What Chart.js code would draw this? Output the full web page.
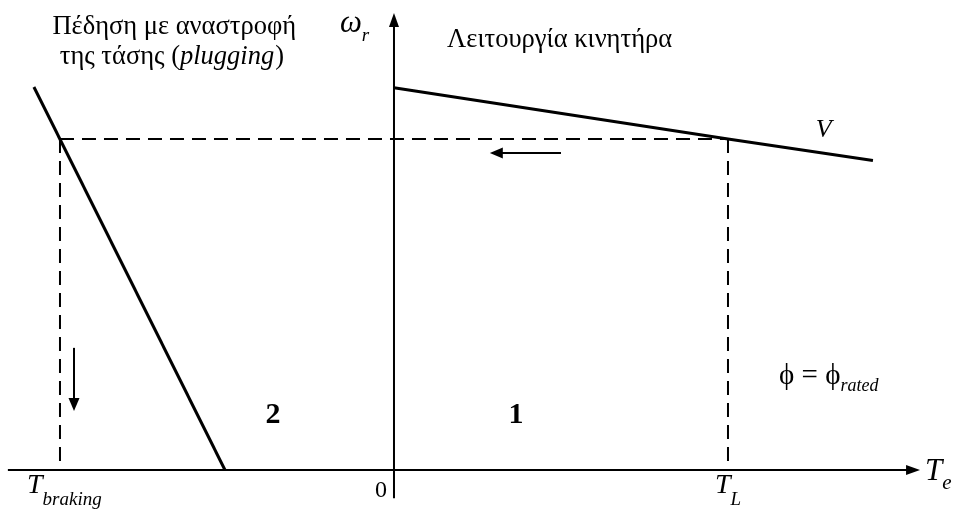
<!DOCTYPE html>
<html>
<head>
<meta charset="utf-8">
<script src="https://cdn.jsdelivr.net/npm/chart.js@4/dist/chart.umd.min.js"></script>
<style>
  html, body { margin: 0; padding: 0; background: #fff; }
  #wrap { width: 953px; height: 509px; position: relative; }
</style>
</head>
<body>
<div id="wrap"><canvas id="plugChart"></canvas></div>
<script>
// torque in units of T_L, speed in units of the operating speed
const motorTorque = [0, 1, 1.434];
const motorSpeed = [1.155, 1.0, 0.935];
const plugTorque = [-1.078, -1.0, -0.506];
const plugSpeed = [1.157, 1.0, 0];
const opTorque = [-1.0, 1.0]; // T_braking, T_L
const opSpeed = 1.0;
const xAxisRange = [-1.156, 1.575];
const yAxisRange = [-0.085, 1.381];
// direction of the operating point after the switch: [fromT, fromW, toT, toW]
const moveArrows = [[0.5, 0.958, 0.287, 0.958], [-0.958, 0.369, -0.958, 0.178]];

const serif = '"Liberation Serif", "DejaVu Serif", serif';

const toPoints = (xs, ys) => xs.map((x, i) => ({ x: x, y: ys[i] }));

const solid = (data) => ({
    data: data,
    showLine: true,
    borderColor: "#000",
    borderWidth: 3,
    pointRadius: 0,
    fill: false
});
const dashed = (data) => ({
    data: data,
    showLine: true,
    borderColor: "#000",
    borderWidth: 2,
    borderDash: [14, 8],
    pointRadius: 0,
    fill: false
});

// filled arrow head at (x, y) pointing along angle a
const arrowHead = (ctx, x, y, a, len, half) => {
    ctx.beginPath();
    ctx.moveTo(x, y);
    ctx.lineTo(x - len * Math.cos(a) + half * Math.sin(a), y - len * Math.sin(a) - half * Math.cos(a));
    ctx.lineTo(x - len * Math.cos(a) - half * Math.sin(a), y - len * Math.sin(a) + half * Math.cos(a));
    ctx.closePath();
    ctx.fill();
};

// text made of several runs (italic parts, subscripts)
const drawRuns = (ctx, x, y, runs, align) => {
    let w = 0;
    runs.forEach(r => { ctx.font = r.font; w += ctx.measureText(r.t).width + (r.gap || 0); });
    let cx = align === "center" ? x - w / 2 : x;
    runs.forEach(r => {
        ctx.font = r.font;
        ctx.fillText(r.t, cx, y + (r.dy || 0));
        cx += ctx.measureText(r.t).width + (r.gap || 0);
    });
};

const diagramPlugin = {
    id: "diagram",
    afterDatasetsDraw(chart) {
        const ctx = chart.ctx;
        const xs = chart.scales.x, ys = chart.scales.y;
        const px = (v) => xs.getPixelForValue(v);
        const py = (v) => ys.getPixelForValue(v);
        ctx.save();
        ctx.strokeStyle = "#000";
        ctx.fillStyle = "#000";

        // axes
        ctx.lineWidth = 2;
        ctx.beginPath();
        ctx.moveTo(px(xAxisRange[0]), py(0));
        ctx.lineTo(px(xAxisRange[1]) - 8, py(0));
        ctx.moveTo(px(0), py(yAxisRange[0]));
        ctx.lineTo(px(0), py(yAxisRange[1]) + 8);
        ctx.stroke();
        arrowHead(ctx, px(xAxisRange[1]), py(0), 0, 14, 5);
        arrowHead(ctx, px(0), py(yAxisRange[1]), -Math.PI / 2, 14, 5);

        // movement arrows
        ctx.lineWidth = 2;
        moveArrows.forEach(a => {
            const x0 = px(a[0]), y0 = py(a[1]), x1 = px(a[2]), y1 = py(a[3]);
            const ang = Math.atan2(y1 - y0, x1 - x0);
            ctx.beginPath();
            ctx.moveTo(x0, y0);
            ctx.lineTo(x1 - 8 * Math.cos(ang), y1 - 8 * Math.sin(ang));
            ctx.stroke();
            arrowHead(ctx, x1, y1, ang, 13, 5.5);
        });

        // labels
        ctx.textBaseline = "alphabetic";
        ctx.textAlign = "left";
        const it = (s) => "italic " + s + "px " + serif;
        const up = (s) => s + "px " + serif;

        drawRuns(ctx, px(-0.658), py(1.317), [{ t: "Πέδηση με αναστροφή", font: up(26.5) }], "center");
        drawRuns(ctx, px(-0.665), py(1.227), [
            { t: "της τάσης (", font: up(26.5) },
            { t: "plugging", font: it(26.5), gap: 1 },
            { t: ")", font: up(26.5) }
        ], "center");
        drawRuns(ctx, px(0.159), py(1.278), [{ t: "Λειτουργία κινητήρα", font: up(26.5) }], "left");

        drawRuns(ctx, px(-0.162), py(1.323), [
            { t: "ω", font: it(31) },
            { t: "r", font: it(19), dy: 9 }
        ], "left");
        drawRuns(ctx, px(1.263), py(1.006), [{ t: "V", font: it(26) }], "left");
        drawRuns(ctx, px(1.153), py(0.26), [
            { t: "ϕ = ϕ", font: up(29) },
            { t: "rated", font: it(18), dy: 7 }
        ], "left");

        drawRuns(ctx, px(-0.362), py(0.142), [{ t: "2", font: "bold 30px " + serif }], "center");
        drawRuns(ctx, px(0.365), py(0.142), [{ t: "1", font: "bold 30px " + serif }], "center");
        drawRuns(ctx, px(0) - 13, py(-0.082), [{ t: "0", font: up(24) }], "center");

        drawRuns(ctx, px(opTorque[0]) - 33, py(-0.069), [
            { t: "T", font: it(28) },
            { t: "braking", font: it(19), dy: 12 }
        ], "left");
        drawRuns(ctx, px(opTorque[1]) - 13, py(-0.069), [
            { t: "T", font: it(28) },
            { t: "L", font: it(19), dy: 12 }
        ], "left");
        drawRuns(ctx, px(xAxisRange[1]) + 5, py(-0.03), [
            { t: "T", font: it(31) },
            { t: "e", font: it(21), dy: 9 }
        ], "left");

        ctx.restore();
    }
};

new Chart(document.getElementById("plugChart"), {
    type: "scatter",
    data: {
        datasets: [
            solid(toPoints(motorTorque, motorSpeed)),
            solid(toPoints([plugTorque[0], plugTorque[2]], [plugSpeed[0], plugSpeed[2]])),
            dashed(toPoints(opTorque, [opSpeed, opSpeed])),
            dashed(toPoints([opTorque[0], opTorque[0]], [opSpeed, 0])),
            dashed(toPoints([opTorque[1], opTorque[1]], [opSpeed, 0]))
        ]
    },
    options: {
        responsive: true,
        maintainAspectRatio: false,
        animation: false,
        layout: { padding: 0 },
        plugins: { legend: { display: false }, tooltip: { enabled: false } },
        scales: {
            x: { type: "linear", display: false, min: -1.1796, max: 1.6737 },
            y: { type: "linear", display: false, min: -0.1178, max: 1.4199 }
        }
    },
    plugins: [diagramPlugin]
});
</script>
</body>
</html>
